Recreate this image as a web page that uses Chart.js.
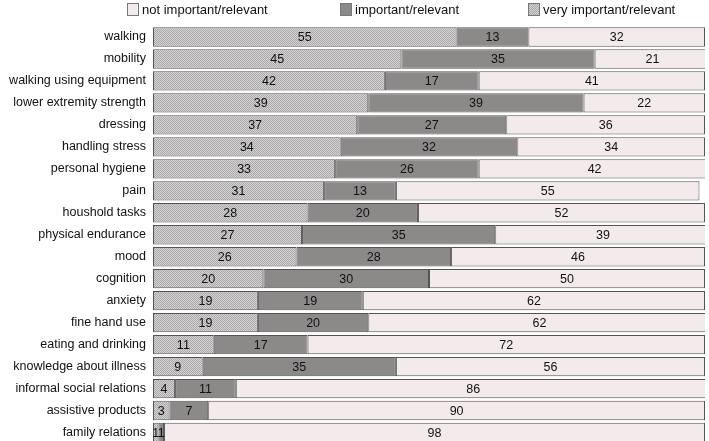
<!DOCTYPE html>
<html lang="en">
<head>
<meta charset="UTF-8">
<title>Importance of ICF categories</title>
<script src="https://cdn.jsdelivr.net/npm/chart.js"></script>
<style>
    body, html {
        margin: 0;
        padding: 0;
        background: #fff;
        font-family: 'Liberation Sans', Arial, sans-serif;
    }
    .wrap {
        position: relative;
        width: 709px;
        height: 441px;
        overflow: hidden;
    }
    .legend-item {
        position: absolute;
        top: 2px;
        font-size: 13px;
        color: #111;
        display: flex;
        align-items: center;
        white-space: nowrap;
    }
    .legend-box {
        width: 10px;
        height: 11px;
        border: 1px solid #777;
        margin-right: 3px;
    }
    canvas { display: block; }
</style>
</head>
<body>
<div class="wrap">
    <div class="legend-item" style="left:127px"><span class="legend-box" style="background:#f3ebeb"></span>not important/relevant</div>
    <div class="legend-item" style="left:340px"><span class="legend-box" style="background:#8c8989"></span>important/relevant</div>
    <div class="legend-item" style="left:528px"><span class="legend-box" id="hatchBox"></span>very important/relevant</div>
    <canvas id="chart" width="709" height="458"></canvas>
</div>
<script>
    const categories = ['walking', 'mobility', 'walking using equipment', 'lower extremity strength', 'dressing',
        'handling stress', 'personal hygiene', 'pain', 'houshold tasks', 'physical endurance', 'mood', 'cognition',
        'anxiety', 'fine hand use', 'eating and drinking', 'knowledge about illness', 'informal social relations',
        'assistive products', 'family relations'];
    const veryImportant = [55, 45, 42, 39, 37, 34, 33, 31, 28, 27, 26, 20, 19, 19, 11, 9, 4, 3, 1];
    const important = [13, 35, 17, 39, 27, 32, 26, 13, 20, 35, 28, 30, 19, 20, 17, 35, 11, 7, 1];
    const notImportant = [32, 21, 41, 22, 36, 34, 42, 55, 52, 39, 46, 50, 62, 62, 72, 56, 86, 90, 98];

    // fine checker pattern for the "very important" segments
    function makeHatch() {
        const c = document.createElement('canvas');
        c.width = 2; c.height = 2;
        const g = c.getContext('2d');
        g.fillStyle = '#d6d4d4';
        g.fillRect(0, 0, 2, 2);
        g.fillStyle = '#a9a7a7';
        g.fillRect(0, 0, 1, 1);
        g.fillRect(1, 1, 1, 1);
        return c;
    }
    const hatchCanvas = makeHatch();
    document.getElementById('hatchBox').style.backgroundImage = 'url(' + hatchCanvas.toDataURL() + ')';

    const ctx = document.getElementById('chart').getContext('2d');
    const hatch = ctx.createPattern(hatchCanvas, 'repeat');

    // numbers centred in every segment
    const segmentLabels = {
        id: 'segmentLabels',
        afterDatasetsDraw(chart) {
            const c = chart.ctx;
            c.save();
            c.font = '12.5px "Liberation Sans", Arial, sans-serif';
            c.fillStyle = '#111';
            c.textAlign = 'center';
            c.textBaseline = 'middle';
            chart.data.datasets.forEach((ds, i) => {
                chart.getDatasetMeta(i).data.forEach((bar, j) => {
                    const cx = (bar.x + bar.base) / 2;
                    c.fillText(String(ds.data[j]), cx, bar.y + 1);
                });
            });
            c.restore();
        }
    };

    const common = {
        borderColor: '#555353',
        borderWidth: 1,
        borderSkipped: false,
        barPercentage: 0.88,
        categoryPercentage: 1.0
    };

    new Chart(ctx, {
        type: 'bar',
        data: {
            labels: categories,
            datasets: [
                Object.assign({ label: 'very important/relevant', data: veryImportant, backgroundColor: hatch }, common),
                Object.assign({ label: 'important/relevant', data: important, backgroundColor: '#8c8989' }, common),
                Object.assign({ label: 'not important/relevant', data: notImportant, backgroundColor: '#f3ebeb' }, common)
            ]
        },
        options: {
            indexAxis: 'y',
            responsive: false,
            animation: false,
            layout: { padding: { top: 26, right: 4, bottom: 0, left: 0 } },
            scales: {
                x: {
                    stacked: true,
                    min: 0,
                    max: 100,
                    display: false
                },
                y: {
                    stacked: true,
                    grid: { display: false, drawTicks: false },
                    border: { display: false },
                    afterFit: s => { s.width = 153; },
                    ticks: {
                        padding: 7,
                        color: '#111',
                        font: { size: 12.5, family: "'Liberation Sans', Arial, sans-serif" }
                    }
                }
            },
            plugins: {
                legend: { display: false },
                tooltip: { enabled: false }
            }
        },
        plugins: [segmentLabels]
    });
</script>
</body>
</html>
